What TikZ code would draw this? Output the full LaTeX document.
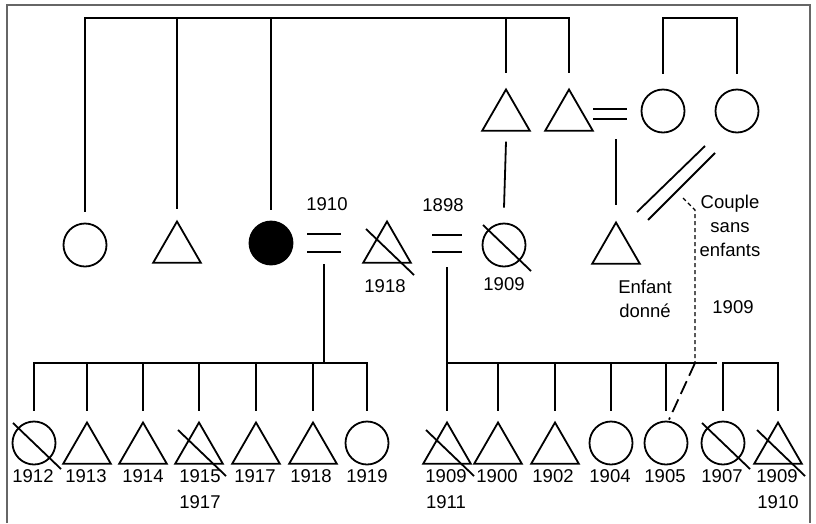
\documentclass[tikz,border=0pt]{standalone}
\usepackage{fontspec}
\setmainfont{Liberation Sans}
\usetikzlibrary{shapes.geometric,calc}
\tikzstyle{man}=[regular polygon,regular polygon sides=3,inner sep=0pt,minimum size=55pt,draw=black]
\tikzstyle{woman}=[circle,inner sep=0pt,minimum size=43pt,draw=black]
\tikzstyle{year}=[inner sep=0pt,align=center,font=\fontsize{18.5}{24}\selectfont]
\newcommand{\deceased}[1]{\draw ($(#1)+(-21,-20)$) -- ($(#1)+(27,26)$);}

\begin{document}
\begin{tikzpicture}[x=1pt,y=-1pt,line width=1.8pt]
\useasboundingbox (0,0) rectangle (816,523);
\draw[line width=1.2pt, black!60] (7,523) -- (7,5) -- (810,5) -- (810,523);

% generation 1
\node (u1) at (506,117) [man] {};
\node (u2) at (569,117) [man] {};
\node (w1) at (663,111) [woman] {};
\node (w2) at (737,111) [woman] {};

% generation 2
\node (a1) at (85,245)  [woman] {};
\node (a2) at (177,249) [man] {};
\node (a3) at (271,243) [woman, fill=black] {};
\node (h1) at (387,249) [man] {};
\node (h2) at (504,245) [woman] {};
\node (ed) at (616,250) [man] {};

% generation 3
\node (k1) at (34,443)  [woman] {};
\node (k2) at (87,450)  [man] {};
\node (k3) at (143,450) [man] {};
\node (k4) at (199,450) [man] {};
\node (k5) at (256,450) [man] {};
\node (k6) at (313,450) [man] {};
\node (k7) at (367,443) [woman] {};
\node (r1) at (447,450) [man] {};
\node (r2) at (498,450) [man] {};
\node (r3) at (555,450) [man] {};
\node (r4) at (611,443) [woman] {};
\node (r5) at (666,443) [woman] {};
\node (r6) at (723,443) [woman] {};
\node (r7) at (778,450) [man] {};

\coordinate (top) at (86,18);
\coordinate (m0) at (610,114);
\coordinate (m1) at (324,243);
\coordinate (m2) at (447,243.5);
\coordinate (bar1) at (33,363);
\coordinate (bar2) at (447,363);
\coordinate (gs) at (683,198);
\coordinate (gv) at (695,363);

% descent lines
\draw ([yshift=11pt]a1.north) -- (a1 |- top) -- (u2 |- top) -- ([yshift=15pt]u2.north);
\draw ([yshift=11pt]a2.north) -- (a2 |- top);
\draw ([yshift=11pt]a3.north) -- (a3 |- top);
\draw ([yshift=15pt]u1.north) -- (u1 |- top);
\draw ([yshift=15pt]w1.north) -- (w1 |- top) -- (w2 |- top) -- ([yshift=15pt]w2.north);
\draw ([yshift=-10pt]u1.south) -- ([yshift=15pt]h2.north);
\draw ([yshift=16pt]ed.north) -- ++(0,-66);

% marriages
\draw ([shift={(-17,-5)}]m0) -- ++(34,0) ([shift={(-17,5)}]m0) -- ++(34,0);
\draw ([shift={(-17,-9)}]m1) -- ++(34,0) ([shift={(-17,9)}]m1) -- ++(34,0);
\draw ([shift={(-15,-8.5)}]m2) -- ++(30,0) ([shift={(-15,8.5)}]m2) -- ++(30,0);
\draw ([yshift=-21pt]m1) -- (m1 |- bar1);
\draw ([yshift=-23.5pt]m2) -- (bar2);

% couple sans enfants
\draw ($(w2)+(-32,35)$) -- ($(ed)+(21,-38)$);
\draw ($(w2)+(-22,42)$) -- ($(ed)+(32,-30)$);
\draw[line width=1.4pt, dash pattern=on 4pt off 3pt] (gs) -- (695,210) -- (gv);
\draw[dash pattern=on 14pt off 6pt] (gv) -- ($(r5.north)+(3,-1)$);

% siblings
\draw ([yshift=10pt]k1.north) -- (k1 |- bar1) -- (k7 |- bar1) -- ([yshift=10pt]k7.north);
\foreach \k in {k2,k3,k4,k5,k6}
  \draw ([yshift=10pt]\k.north) -- (\k |- bar1);
\draw ([yshift=10pt]r1.north) -- (bar2) -- ++(270,0);
\foreach \k in {r2,r3,r4,r5}
  \draw ([yshift=10pt]\k.north) -- (\k |- bar2);
\draw ([yshift=10pt]r6.north) -- (r6 |- bar2) -- (r7 |- bar2) -- ([yshift=10pt]r7.north);

% deaths
\deceased{h1}
\deceased{h2}
\deceased{k1}
\deceased{k4}
\deceased{r1}
\deceased{r6}
\deceased{r7}

% dates
\node (t1910) at (327,204) [year] {1910};
\node (t1918) at (385,286) [year] {1918};
\node (t1898) at (443,205) [year] {1898};
\node (t1909) at (504,284) [year] {1909};
\node (tgiven) at (645,299) [year] {Enfant\\donné};
\node (tcouple) at (730,226) [year] {Couple\\sans\\enfants};
\node (tgift) at (733,307) [year] {1909};
\foreach \n/\x/\t in {1/33/1912,2/86/1913,3/143/1914,4/200/1915,5/255/1917,6/311/1918,7/367/1919,
  8/446/1909,9/497/1900,10/553/1902,11/610/1904,12/665/1905,13/722/1907,14/777/1909}
  \node (y\n) at (\x,476) [year] {\t};
\node (y15) at (200,502) [year] {1917};
\node (y16) at (446,502) [year] {1911};
\node (y17) at (778,502) [year] {1910};
\end{tikzpicture}
\end{document}
